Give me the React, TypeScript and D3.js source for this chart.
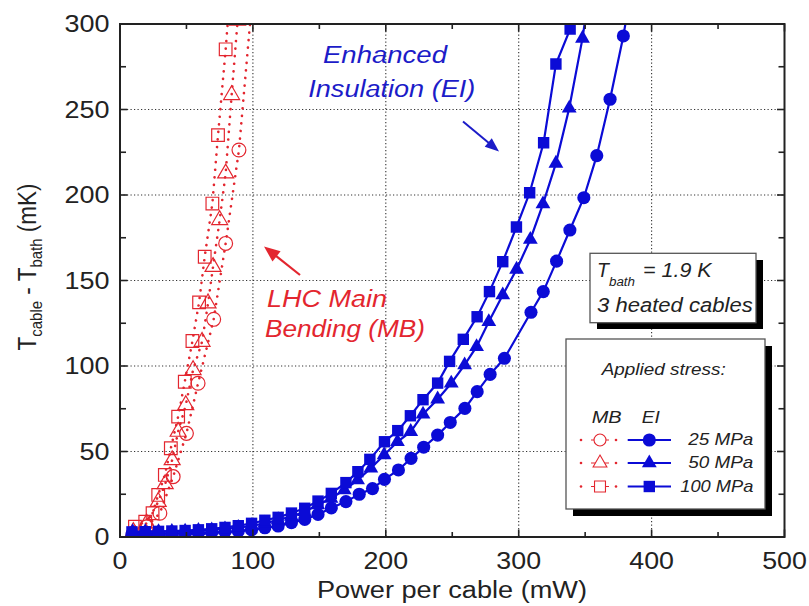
import React from "react";
import * as d3 from "d3";

type Pt = [number, number];

const xTickValues = [0, 100, 200, 300, 400, 500];
const yTickValues = [0, 50, 100, 150, 200, 250, 300];
const xMinorTicks = [50, 150, 250, 350, 450];
const yMinorTicks = [25, 75, 125, 175, 225, 275];
const xGrid = [100, 200, 300, 400];
const yGrid = [50, 100, 150, 200, 250];

// Enhanced Insulation (EI) - blue, filled markers
const ei25: Pt[] = [
  [9, 1.5], [19, 1.7], [29, 1.9], [39, 2.1], [49, 2.3], [59, 2.5], [69, 2.7], [79, 3.0], [89, 3.5],
  [99, 4.1], [109, 5.4], [119, 6.4], [129, 8.4], [139, 10.3], [149, 13.2], [159, 17], [170, 20.7],
  [180, 25], [190, 28.3], [199, 33.7], [209.5, 39.2], [219, 46], [228.5, 52.5], [239, 59.6],
  [248.5, 67], [259.5, 75.2], [268.75, 85], [278.5, 95.1], [289.25, 104.5], [309.25, 131.4],
  [318.5, 143.5], [328.5, 161.3], [338.5, 179.5], [349, 198.4], [358.75, 223], [368.75, 256],
  [378.75, 293], [389, 340],
];
const ei50: Pt[] = [
  [9.5, 3], [19, 3], [29, 3.1], [39, 3.2], [49, 3.4], [59, 3.7], [69, 4.1], [79, 4.7], [89, 5.5],
  [99, 6.5], [109, 8], [119, 10], [129, 12], [138.75, 14.8], [148.75, 18.7], [158.75, 22.6],
  [168.75, 27.5], [178.75, 33.3], [188.75, 40.2], [198.75, 48], [208.75, 55.7], [218.75, 61.6],
  [228, 71.8], [239, 80.6], [249.25, 89.9], [259.3, 100.6], [268.3, 111.3], [277.5, 125.9],
  [288, 141.5], [298.4, 156.5], [308.75, 174], [318.25, 194.7], [328, 218.5], [338, 250.7],
  [348, 291.6], [357, 340],
];
const ei100: Pt[] = [
  [9, 3], [19, 3.1], [29, 3.3], [39, 3.5], [49, 3.8], [59, 4.2], [69, 4.8], [79, 5.6], [89, 6.6],
  [99, 8], [109, 9.8], [119, 11.5], [129, 14], [139, 16.8], [149, 21], [159, 25.5], [170, 31.8],
  [179, 38.2], [188, 45.4], [199, 55.7], [209, 62.2], [218.5, 70.9], [228, 80.3], [239, 90],
  [248, 102.7], [258.3, 115.6], [268.7, 128.8], [278, 143.5], [288, 161], [298.3, 181.3],
  [308.25, 201.3], [318.75, 230.6], [328, 276.6], [338.7, 297], [345, 320],
];

// LHC Main Bending (MB) - red, open markers, dotted lines
const mb25: Pt[] = [
  [10, 2], [20, 6], [30, 13.9], [40, 35.3], [50, 60.6], [58.75, 89.9], [70.5, 127.3],
  [79.5, 171.7], [89.5, 226.3], [99.5, 315],
];
const mb50: Pt[] = [
  [10, 3], [20, 8], [28.75, 20.6], [34, 31], [39.25, 45], [43.75, 61.6], [49.5, 77.2], [55, 97.7],
  [61.75, 114.2], [66.25, 136.7], [70, 158], [75, 185.4], [79.5, 212.7], [84, 258.5], [88.5, 302],
];
const mb100: Pt[] = [
  [11.25, 6], [19, 9], [24.5, 13.9], [28.75, 24.6], [33.75, 36.3], [38.25, 51.9], [43.75, 70.4],
  [48.75, 90.8], [54.5, 114.6], [59.5, 137.2], [63.75, 163.9], [69.5, 195], [73.75, 235],
  [79.5, 285.2], [84, 330],
];

const stressLabels = ["25 MPa", "50 MPa", "100 MPa"];
const stressLabelWidths = [65, 65, 73];

const FONT = "'Liberation Sans', Arial, Helvetica, sans-serif";
const BLUE = "#0b0bd6";
const BLUE_TXT = "#1c1cc8";
const RED = "#e3262f";
const INK = "#222";

function Arrow({ x1, y1, x2, y2, color, len, half, width }: any) {
  const dx = x2 - x1, dy = y2 - y1;
  const L = Math.sqrt(dx * dx + dy * dy);
  const ux = dx / L, uy = dy / L;
  const bx = x2 - ux * len, by = y2 - uy * len;
  const px = -uy, py = ux;
  const pts = `${x2},${y2} ${bx + px * half},${by + py * half} ${bx - px * half},${by - py * half}`;
  return (
    <g>
      <line x1={x1} y1={y1} x2={bx + ux * 2} y2={by + uy * 2} stroke={color} strokeWidth={width} />
      <polygon points={pts} fill={color} />
    </g>
  );
}

export default function App() {
  const x = d3.scaleLinear().domain([0, 500]).range([120, 784.5]);
  const y = d3.scaleLinear().domain([0, 300]).range([537, 24]);
  const line = d3.line<Pt>().x((d) => x(d[0])).y((d) => y(d[1]));
  const sym = (type: any, size: number) => d3.symbol().type(type).size(size)() as string;

  const blueSeries = [
    { data: ei25, type: d3.symbolCircle, size: 135 },
    { data: ei50, type: d3.symbolTriangle, size: 95 },
    { data: ei100, type: d3.symbolSquare, size: 130 },
  ];
  const redSeries = [
    { data: mb25, type: d3.symbolCircle, size: 150 },
    { data: mb50, type: d3.symbolTriangle, size: 110 },
    { data: mb100, type: d3.symbolSquare, size: 160 },
  ];

  const [x0, x1] = x.range();
  const [yb, yt] = y.range();
  const legendRows = [440, 463, 486.5];

  return (
    <svg width={809} height={606} style={{ position: "absolute", left: 0, top: 0, background: "#fff" }} fontFamily={FONT}>
      <defs>
        <clipPath id="plotClip">
          <rect x={x0} y={yt} width={x1 - x0} height={yb - yt} />
        </clipPath>
      </defs>
      <rect x={0} y={0} width={809} height={606} fill="#fff" />

      {/* grid */}
      <g stroke="#333" strokeWidth={1.1} strokeDasharray="1.2 2.3">
        {xGrid.map((v) => (
          <line key={"gx" + v} x1={x(v)} x2={x(v)} y1={yt} y2={yb} />
        ))}
        {yGrid.map((v) => (
          <line key={"gy" + v} x1={x0} x2={x1} y1={y(v)} y2={y(v)} />
        ))}
      </g>

      {/* red MB series */}
      <g clipPath="url(#plotClip)">
        {redSeries.map((s, i) => (
          <path key={"rl" + i} d={line(s.data) as string} fill="none" stroke={RED} strokeWidth={2.6}
            strokeDasharray="0.1 7.5" strokeLinecap="round" />
        ))}
        {redSeries.map((s, i) =>
          s.data.map((d, j) => (
            <path key={"rm" + i + "-" + j} d={sym(s.type, s.size)} transform={`translate(${x(d[0])},${y(d[1])})`}
              fill="none" stroke={RED} strokeWidth={1.2} />
          ))
        )}
      </g>

      {/* blue EI series */}
      <g clipPath="url(#plotClip)">
        {blueSeries.map((s, i) => (
          <path key={"bl" + i} d={line(s.data) as string} fill="none" stroke={BLUE} strokeWidth={2.2} />
        ))}
        {blueSeries.map((s, i) =>
          s.data.map((d, j) => (
            <path key={"bm" + i + "-" + j} d={sym(s.type, s.size)} transform={`translate(${x(d[0])},${y(d[1])})`}
              fill={BLUE} />
          ))
        )}
      </g>

      {/* frame */}
      <rect x={x0} y={yt} width={x1 - x0} height={yb - yt} fill="none" stroke={INK} strokeWidth={2} />

      {/* ticks */}
      <g stroke={INK} strokeWidth={1.6}>
        {xTickValues.map((v) => (
          <g key={"xt" + v}>
            <line x1={x(v)} x2={x(v)} y1={yb} y2={yb - 7.5} />
            <line x1={x(v)} x2={x(v)} y1={yt} y2={yt + 7.5} />
          </g>
        ))}
        {xMinorTicks.map((v) => (
          <g key={"xm" + v}>
            <line x1={x(v)} x2={x(v)} y1={yb} y2={yb - 5} />
            <line x1={x(v)} x2={x(v)} y1={yt} y2={yt + 5} />
          </g>
        ))}
        {yTickValues.map((v) => (
          <g key={"yt" + v}>
            <line x1={x0} x2={x0 + 7.5} y1={y(v)} y2={y(v)} />
            <line x1={x1} x2={x1 - 7.5} y1={y(v)} y2={y(v)} />
          </g>
        ))}
        {yMinorTicks.map((v) => (
          <g key={"ym" + v}>
            <line x1={x0} x2={x0 + 6} y1={y(v)} y2={y(v)} />
            <line x1={x1} x2={x1 - 6} y1={y(v)} y2={y(v)} />
          </g>
        ))}
      </g>

      {/* tick labels */}
      <g fill={INK} fontSize={24.5}>
        {xTickValues.map((v) => (
          <text key={"xl" + v} x={x(v)} y={568.5} textAnchor="middle" textLength={String(v).length * 14.9}
            lengthAdjust="spacingAndGlyphs">{v}</text>
        ))}
        {yTickValues.map((v) => (
          <text key={"yl" + v} x={109.5} y={y(v) + 8.3} textAnchor="end" textLength={String(v).length * 15}
            lengthAdjust="spacingAndGlyphs">{v}</text>
        ))}
      </g>

      {/* axis titles */}
      <text x={317} y={598.3} fontSize={23} fill={INK} textLength={270} lengthAdjust="spacingAndGlyphs">
        Power per cable (mW)
      </text>
      <text transform="translate(36,267) rotate(-90) scale(1,1.12)" textAnchor="middle" fontSize={22.5} fill={INK}>
        T<tspan fontSize={15} dy={5}>cable</tspan>
        <tspan dy={-5}> - T</tspan>
        <tspan fontSize={15} dy={5}>bath</tspan>
        <tspan dy={-5}> (mK)</tspan>
      </text>

      {/* annotations */}
      <g fontStyle="italic" fill={BLUE_TXT} fontSize={23}>
        <text x={323} y={63.3} textLength={124} lengthAdjust="spacingAndGlyphs">Enhanced</text>
        <text x={308.3} y={96.7} textLength={167} lengthAdjust="spacingAndGlyphs">Insulation (EI)</text>
      </g>
      <Arrow x1={463} y1={121.5} x2={499} y2={151.5} color={BLUE_TXT} len={14} half={5.5} width={2} />

      <g fontStyle="italic" fill={RED} fontSize={24.5}>
        <text x={267} y={306.7} textLength={120} lengthAdjust="spacingAndGlyphs">LHC Main</text>
        <text x={265} y={336.5} textLength={160} lengthAdjust="spacingAndGlyphs">Bending (MB)</text>
      </g>
      <Arrow x1={300} y1={275} x2={264} y2={246.5} color={RED} len={16} half={6.5} width={2.2} />

      {/* T_bath box */}
      <rect x={597} y={260} width={166} height={69} fill="#000" />
      <rect x={590} y={253.3} width={166} height={69.4} fill="#fff" stroke="#555" strokeWidth={1.3} />
      <g fontStyle="italic" fill={INK}>
        <text x={597} y={277.3} fontSize={19.5}>T</text>
        <text x={609} y={285.5} fontSize={12} textLength={26} lengthAdjust="spacingAndGlyphs">bath</text>
        <text x={643} y={277.3} fontSize={19.5} textLength={68.7} lengthAdjust="spacingAndGlyphs">= 1.9 K</text>
        <text x={597} y={311.7} fontSize={19.5} textLength={155.7} lengthAdjust="spacingAndGlyphs">3 heated cables</text>
      </g>

      {/* legend box */}
      <rect x={573} y={346} width={199} height={170} fill="#000" />
      <rect x={566} y={339} width={199} height={170} fill="#fff" stroke="#555" strokeWidth={1.3} />
      <g fontStyle="italic" fill={INK} fontSize={16.5}>
        <text x={601.7} y={375} textLength={124} lengthAdjust="spacingAndGlyphs">Applied stress:</text>
        <text x={591.7} y={422.7} textLength={30} lengthAdjust="spacingAndGlyphs">MB</text>
        <text x={641.7} y={422.7} textLength={18} lengthAdjust="spacingAndGlyphs">EI</text>
        {stressLabels.map((s, i) => (
          <text key={"sl" + i} x={753.3} y={legendRows[i] + 5.3} textAnchor="end" textLength={stressLabelWidths[i]}
            lengthAdjust="spacingAndGlyphs">{s}</text>
        ))}
      </g>
      {redSeries.map((s, i) => (
        <g key={"lr" + i}>
          <circle cx={581} cy={legendRows[i]} r={1.3} fill={RED} />
          <circle cx={616} cy={legendRows[i]} r={1.3} fill={RED} />
          <line x1={591} x2={609} y1={legendRows[i]} y2={legendRows[i]} stroke={RED} strokeWidth={1} />
          <path d={sym(s.type, s.size * 0.75)} transform={`translate(600,${legendRows[i]})`} fill="#fff" stroke={RED} strokeWidth={1.1} />
        </g>
      ))}
      {blueSeries.map((s, i) => (
        <g key={"lb" + i}>
          <line x1={627.7} x2={671} y1={legendRows[i]} y2={legendRows[i]} stroke={BLUE} strokeWidth={2.2} />
          <path d={sym(s.type, s.size)} transform={`translate(649.3,${legendRows[i]})`} fill={BLUE} />
        </g>
      ))}
    </svg>
  );
}
